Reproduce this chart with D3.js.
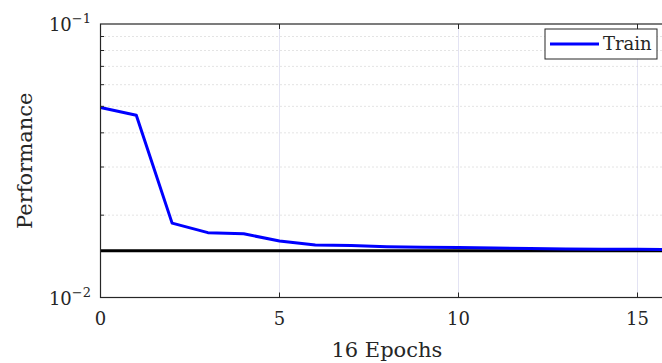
<!DOCTYPE html>
<html>
<head>
<meta charset="utf-8">
<script src="https://cdn.jsdelivr.net/npm/d3@7"></script>
<style>
  body { margin: 0; background: #fff; }
  text { font-family: "DejaVu Serif", serif; fill: #262626; }
</style>
</head>
<body>
<svg id="chart" width="662" height="363"></svg>
<script>
// values
const epochs = [0, 1, 2, 3, 4, 5, 6, 7, 8, 9, 10, 11, 12, 13, 14, 15, 16];
const trainPerf = [0.0495, 0.0464, 0.0187, 0.01726, 0.0171, 0.01608, 0.01555, 0.01548,
                   0.01533, 0.01527, 0.01522, 0.01516, 0.0151, 0.01505, 0.01502, 0.015, 0.01499];
const bestPerf = 0.01481;
const xTicks = [0, 5, 10, 15];
const yMajor = [0.01, 0.1];
const yMinor = [0.02, 0.03, 0.04, 0.05, 0.06, 0.07, 0.08, 0.09];

const svg = d3.select('#chart');
const mLeft = 100.5, mTop = 24, mBottom = 297.5;
const mRight = mLeft + 16 * 35.8;   // axes run past the right edge of the picture

const x = d3.scaleLinear().domain([0, 16]).range([mLeft, mRight]);
const y = d3.scaleLog().domain([0.01, 0.1]).range([mBottom, mTop]);

// grid
svg.selectAll('.vgrid')
  .data(xTicks.filter(d => d > 0))
  .enter().append('line')
  .attr('x1', d => x(d)).attr('x2', d => x(d))
  .attr('y1', mTop).attr('y2', mBottom)
  .attr('stroke', '#e3e3f3')
  .attr('stroke-width', 1);

svg.selectAll('.hgrid')
  .data(yMinor)
  .enter().append('line')
  .attr('x1', mLeft).attr('x2', mRight)
  .attr('y1', d => y(d)).attr('y2', d => y(d))
  .attr('stroke', '#c8c8c8')
  .attr('stroke-width', 1)
  .attr('stroke-dasharray', '1,3');

// lines
svg.append('line')
  .attr('x1', x(0)).attr('x2', x(16))
  .attr('y1', y(bestPerf)).attr('y2', y(bestPerf))
  .attr('stroke', '#000')
  .attr('stroke-width', 3);

const line = d3.line()
  .x((d, i) => x(epochs[i]))
  .y(d => y(d));

svg.append('path')
  .datum(trainPerf)
  .attr('d', line)
  .attr('fill', 'none')
  .attr('stroke', '#0000ff')
  .attr('stroke-width', 3)
  .attr('stroke-linejoin', 'round');

// box
svg.append('rect')
  .attr('x', mLeft).attr('y', mTop)
  .attr('width', mRight - mLeft).attr('height', mBottom - mTop)
  .attr('fill', 'none')
  .attr('stroke', '#262626')
  .attr('stroke-width', 1.2);

// ticks (inside)
const tl = 5;
xTicks.forEach(d => {
  svg.append('line').attr('x1', x(d)).attr('x2', x(d)).attr('y1', mBottom).attr('y2', mBottom - tl)
    .attr('stroke', '#262626');
  svg.append('line').attr('x1', x(d)).attr('x2', x(d)).attr('y1', mTop).attr('y2', mTop + tl)
    .attr('stroke', '#262626');
});
yMinor.forEach(d => {
  svg.append('line').attr('x1', mLeft).attr('x2', mLeft + 3.5).attr('y1', y(d)).attr('y2', y(d))
    .attr('stroke', '#262626');
});

// x tick labels
svg.selectAll('.xlab')
  .data(xTicks)
  .enter().append('text')
  .attr('x', d => x(d))
  .attr('y', 325)
  .attr('text-anchor', 'middle')
  .attr('font-size', 18)
  .text(d => d);

// y tick labels 10^k
yMajor.forEach(d => {
  const t = svg.append('text')
    .attr('x', 91)
    .attr('y', y(d) + 7)
    .attr('text-anchor', 'end')
    .attr('font-size', 18);
  t.append('tspan').text('10');
  t.append('tspan')
    .attr('dy', -8)
    .attr('font-size', 13)
    .text('\u2212' + Math.round(-Math.log10(d)));
});

// axis titles
svg.append('text')
  .attr('x', x(8))
  .attr('y', 357)
  .attr('text-anchor', 'middle')
  .attr('font-size', 21)
  .text(epochs.length - 1 + ' Epochs');

svg.append('text')
  .attr('transform', 'translate(32,' + (mTop + mBottom) / 2 + ') rotate(-90)')
  .attr('text-anchor', 'middle')
  .attr('font-size', 21)
  .text('Performance');

// legend
const lg = svg.append('g').attr('transform', 'translate(545,29)');
lg.append('rect')
  .attr('width', 112).attr('height', 30)
  .attr('fill', '#fff')
  .attr('stroke', '#262626')
  .attr('stroke-width', 1);
lg.append('line')
  .attr('x1', 5).attr('x2', 54).attr('y1', 15).attr('y2', 15)
  .attr('stroke', '#0000ff').attr('stroke-width', 3);
lg.append('text')
  .attr('x', 58).attr('y', 21)
  .attr('font-size', 18)
  .text('Train');
</script>
</body>
</html>
